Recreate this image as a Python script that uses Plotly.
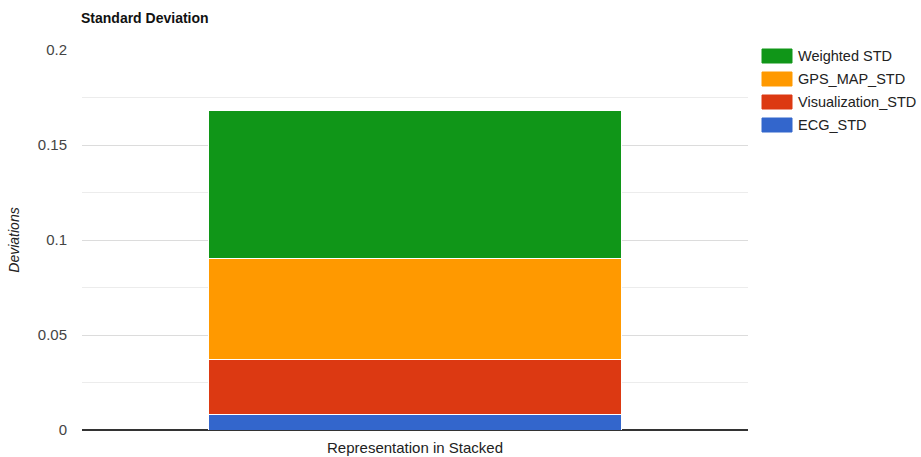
import plotly.graph_objects as go

# Stacked standard-deviation components (bottom to top)
category = ["Representation in Stacked"]
series_names = ["ECG_STD", "Visualization_STD", "GPS_MAP_STD", "Weighted STD"]
ecg_std = [0.008]
visualization_std = [0.029]
gps_map_std = [0.0535]
weighted_std = [0.0775]
colors = ["#3366CC", "#DC3912", "#FF9900", "#109618"]

values = [ecg_std, visualization_std, gps_map_std, weighted_std]

W, H = 921, 457
ML, MR, MT, MB = 82, 173, 50, 27
PW, PH = W - ML - MR, H - MT - MB


def px_x(px):
    return (px - ML) / PW


def px_y(py):
    return (H - MB - py) / PH


fig = go.Figure()
for name, vals, col in zip(series_names, values, colors):
    fig.add_trace(go.Bar(
        x=category, y=vals, name=name,
        marker=dict(color=col, line=dict(color="white", width=1)),
        showlegend=False,
    ))

font_family = "Liberation Sans, Arial, sans-serif"

# Legend drawn as swatches + labels, top entry = top of stack
for i, (name, col) in enumerate(zip(reversed(series_names), reversed(colors))):
    cy = 56 + i * 23
    fig.add_shape(type="rect", xref="paper", yref="paper",
                  x0=px_x(762), x1=px_x(792),
                  y0=px_y(cy + 7), y1=px_y(cy - 7),
                  fillcolor=col, line=dict(color=col, width=1))
    fig.add_annotation(xref="paper", yref="paper", x=px_x(796), y=px_y(cy),
                       text=name, showarrow=False, xanchor="left", yanchor="middle",
                       font=dict(family=font_family, size=14.5, color="#222"))

fig.update_layout(
    width=W, height=H,
    margin=dict(l=ML, r=MR, t=MT, b=MB, autoexpand=False),
    paper_bgcolor="white", plot_bgcolor="white",
    barmode="stack", bargap=0.38,
    font=dict(family=font_family, size=14, color="#444"),
    title=dict(text="<b>Standard Deviation</b>", x=81 / W, xanchor="left",
               y=1 - 18 / H, yanchor="middle",
               font=dict(family=font_family, size=14, color="#111")),
    xaxis=dict(showgrid=False, showline=False, ticks="", automargin=False,
               ticklabelstandoff=7,
               tickfont=dict(size=15, color="#222")),
    yaxis=dict(range=[0, 0.2], dtick=0.05, tick0=0, automargin=False,
               showgrid=True, gridcolor="#dcdcdc", gridwidth=1,
               minor=dict(dtick=0.025, showgrid=True, gridcolor="#ececec", gridwidth=1),
               zeroline=True, zerolinecolor="#333", zerolinewidth=2,
               showline=False, ticks="", ticklabelstandoff=14,
               tickfont=dict(size=15, color="#444"),
               title=dict(text="<i>Deviations</i>", standoff=14,
                          font=dict(size=14, color="#222"))),
)

fig.write_html("out.html")
